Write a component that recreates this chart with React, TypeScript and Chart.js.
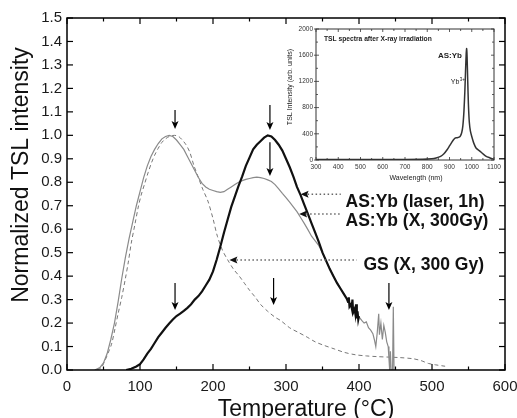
import React, { useEffect, useRef } from "react";
import { Chart, registerables } from "chart.js";
Chart.register(...registerables);

const FONT = '"Liberation Sans", Arial, Helvetica, sans-serif';

// ---------- main data (Temperature °C -> normalized TSL) ----------
// AS:Yb (laser, 1h)
const laserT = [81, 88, 95, 100, 105, 110, 115, 120, 125, 130, 135, 140, 145, 150, 155, 160, 165, 170, 175, 180, 185, 190, 195, 200, 205, 210, 215, 220, 225, 230, 235, 240, 245, 250, 255, 260, 265, 270, 275, 280, 285, 290, 295, 300, 305, 310, 315, 320, 325, 330, 335, 340, 345, 350, 355, 360, 365, 370, 375, 380, 383, 385, 386, 387, 389, 390, 391, 392, 394, 395, 396, 397, 398, 399, 400];
const laserY = [0, 0.005, 0.015, 0.025, 0.045, 0.07, 0.09, 0.115, 0.14, 0.16, 0.18, 0.198, 0.215, 0.23, 0.24, 0.252, 0.265, 0.28, 0.3, 0.315, 0.335, 0.36, 0.385, 0.42, 0.47, 0.525, 0.585, 0.64, 0.695, 0.74, 0.785, 0.825, 0.87, 0.905, 0.94, 0.96, 0.975, 0.99, 1.0, 0.995, 0.98, 0.96, 0.935, 0.9, 0.865, 0.825, 0.78, 0.745, 0.705, 0.665, 0.625, 0.585, 0.545, 0.5, 0.465, 0.43, 0.4, 0.37, 0.345, 0.32, 0.305, 0.29, 0.31, 0.27, 0.28, 0.265, 0.3, 0.245, 0.26, 0.24, 0.28, 0.22, 0.25, 0.215, 0.23];

// AS:Yb (X, 300Gy)
const xrayT = [38, 45, 50, 55, 60, 65, 70, 75, 80, 85, 90, 95, 100, 105, 110, 115, 120, 125, 130, 135, 140, 145, 150, 155, 160, 165, 170, 175, 180, 185, 190, 195, 200, 205, 210, 215, 220, 225, 230, 235, 240, 245, 250, 255, 260, 265, 270, 275, 280, 285, 290, 295, 300, 305, 310, 315, 320, 325, 330, 335, 340, 345, 350, 355, 360, 365, 370, 375, 380, 385, 390, 395, 400, 404, 407, 410, 413, 416, 419, 421, 423, 425, 427, 428, 430, 432, 434, 436, 438, 440, 441, 442, 443, 444, 446, 447, 448];
const xrayY = [0, 0.01, 0.03, 0.07, 0.13, 0.2, 0.29, 0.39, 0.48, 0.56, 0.63, 0.7, 0.76, 0.82, 0.87, 0.91, 0.94, 0.965, 0.985, 0.995, 1.0, 0.995, 0.98, 0.96, 0.94, 0.91, 0.88, 0.85, 0.82, 0.795, 0.78, 0.77, 0.765, 0.76, 0.757, 0.76, 0.77, 0.78, 0.79, 0.8, 0.807, 0.812, 0.816, 0.82, 0.822, 0.82, 0.816, 0.81, 0.803, 0.79, 0.772, 0.753, 0.735, 0.715, 0.695, 0.675, 0.65, 0.625, 0.598, 0.57, 0.55, 0.53, 0.5, 0.465, 0.432, 0.4, 0.372, 0.345, 0.32, 0.296, 0.272, 0.25, 0.226, 0.21, 0.2, 0.205, 0.18, 0.17, 0.155, 0.13, 0.1, 0.16, 0.24, 0.15, 0.2, 0.13, 0.19, 0.16, 0.12, 0.1, 0.05, 0.0, 0.08, 0.0, 0.0, 0.27, 0.0];

// GS (X, 300 Gy)
const gsT = [41, 47, 52, 56, 61, 66, 70, 75, 80, 84, 88, 93, 98, 102, 106, 111, 116, 120, 125, 130, 135, 140, 147, 153, 158, 163, 168, 174, 180, 186, 193, 200, 206, 213, 220, 228, 236, 243, 250, 258, 265, 275, 285, 293, 305, 317, 329, 340, 352, 366, 380, 395, 410, 425, 440, 455, 474, 485, 495, 505, 518];
const gsY = [0, 0.01, 0.04, 0.07, 0.11, 0.18, 0.24, 0.31, 0.39, 0.46, 0.54, 0.62, 0.7, 0.75, 0.79, 0.84, 0.885, 0.915, 0.945, 0.97, 0.985, 0.995, 1.0, 0.995, 0.98, 0.96, 0.93, 0.87, 0.82, 0.77, 0.72, 0.645, 0.57, 0.51, 0.47, 0.43, 0.4, 0.37, 0.34, 0.31, 0.28, 0.25, 0.225, 0.21, 0.18, 0.16, 0.14, 0.12, 0.105, 0.09, 0.075, 0.065, 0.06, 0.057, 0.055, 0.053, 0.048, 0.04, 0.028, 0.022, 0.016];

const xTickValues = [0, 100, 200, 300, 400, 500, 600];
const yTickLabels = ["0.0", "0.1", "0.2", "0.3", "0.4", "0.5", "0.6", "0.7", "0.8", "0.9", "1.0", "1.1", "1.2", "1.3", "1.4", "1.5"];

// peak markers (down arrows) in data coords: temperature, from, to
const arrowT = [148, 278, 278, 148, 283, 441];
const arrowFrom = [1.108, 1.129, 0.971, 0.371, 0.392, 0.371];
const arrowTo = [1.027, 1.023, 0.827, 0.256, 0.277, 0.256];

// labels with dotted pointer arrows
const labelTexts = ["AS:Yb (laser, 1h)", "AS:Yb (X, 300Gy)", "GS (X, 300 Gy)"];
const labelTipT = [320, 318, 222.5];
const labelTailT = [375, 375, 397];
const labelLineY = [0.749, 0.665, 0.469];
const labelTextT = [381.5, 381.5, 406];
const labelTextY = [0.695, 0.614, 0.426];

// ---------- inset data ----------
const insetWl = [300, 400, 500, 600, 700, 780, 820, 840, 860, 875, 890, 900, 910, 918, 925, 932, 940, 948, 955, 960, 965, 969, 972, 975, 977, 979, 982, 985, 989, 994, 1000, 1010, 1020, 1035, 1050, 1065, 1080, 1100];
const insetI = [8, 8, 8, 8, 8, 10, 18, 30, 55, 95, 160, 215, 270, 310, 335, 340, 345, 360, 420, 520, 750, 1050, 1350, 1620, 1700, 1580, 1200, 850, 580, 440, 360, 250, 180, 140, 95, 55, 35, 12];
const insetXTicks = [300, 400, 500, 600, 700, 800, 900, 1000, 1100];
const insetYTicks = [0, 400, 800, 1200, 1600, 2000];

function line(ctx: CanvasRenderingContext2D, x1: number, y1: number, x2: number, y2: number) {
  ctx.beginPath();
  ctx.moveTo(x1, y1);
  ctx.lineTo(x2, y2);
  ctx.stroke();
}

const noPad = (s: any) => {
  s.paddingLeft = 0;
  s.paddingRight = 0;
  s.paddingTop = 0;
  s.paddingBottom = 0;
};

const mainDecor = {
  id: "mainDecor",
  afterDatasetsDraw(chart: any) {
    const { ctx, chartArea: a, scales } = chart;
    const x = scales.x;
    const y = scales.y;
    ctx.save();
    ctx.strokeStyle = "#000";
    ctx.lineWidth = 1.2;
    for (let v = 0; v <= 600; v += 50) {
      const px = x.getPixelForValue(v);
      const len = v % 100 === 0 ? 6 : 3.5;
      line(ctx, px, a.bottom, px, a.bottom - len);
      line(ctx, px, a.top, px, a.top + len);
    }
    for (let i = 0; i <= 15; i++) {
      const py = y.getPixelForValue(i / 10);
      line(ctx, a.left, py, a.left + 6, py);
      line(ctx, a.right, py, a.right - 6, py);
    }
    ctx.lineWidth = 1.5;
    ctx.strokeRect(a.left, a.top, a.right - a.left, a.bottom - a.top);

    ctx.fillStyle = "#000";
    ctx.lineWidth = 1.2;
    for (let i = 0; i < arrowT.length; i++) {
      const px = x.getPixelForValue(arrowT[i]);
      const y1 = y.getPixelForValue(arrowFrom[i]);
      const y2 = y.getPixelForValue(arrowTo[i]);
      line(ctx, px, y1, px, y2 - 5);
      ctx.beginPath();
      ctx.moveTo(px - 3.5, y2 - 8);
      ctx.lineTo(px, y2 - 6);
      ctx.lineTo(px + 3.5, y2 - 8);
      ctx.lineTo(px, y2);
      ctx.closePath();
      ctx.fill();
    }

    for (let i = 0; i < labelTexts.length; i++) {
      const tip = x.getPixelForValue(labelTipT[i]);
      const tail = x.getPixelForValue(labelTailT[i]);
      const py = y.getPixelForValue(labelLineY[i]);
      ctx.strokeStyle = "#666";
      ctx.lineWidth = 1.5;
      ctx.setLineDash([1.5, 2.5]);
      line(ctx, tip + 7, py, tail, py);
      ctx.setLineDash([]);
      ctx.fillStyle = "#111";
      ctx.beginPath();
      ctx.moveTo(tip, py);
      ctx.lineTo(tip + 8, py - 3.5);
      ctx.lineTo(tip + 6.5, py);
      ctx.lineTo(tip + 8, py + 3.5);
      ctx.closePath();
      ctx.fill();
      ctx.font = `bold 17.5px ${FONT}`;
      ctx.textAlign = "left";
      ctx.textBaseline = "alphabetic";
      ctx.fillStyle = "#111";
      ctx.fillText(labelTexts[i], x.getPixelForValue(labelTextT[i]), y.getPixelForValue(labelTextY[i]));
    }

    ctx.fillStyle = "#111";
    ctx.font = `23px ${FONT}`;
    ctx.textAlign = "center";
    ctx.textBaseline = "alphabetic";
    ctx.fillText("Temperature (°C)", 306, 416);
    ctx.save();
    ctx.translate(28, 175);
    ctx.rotate(-Math.PI / 2);
    ctx.fillText("Normalized TSL intensity", 0, 0);
    ctx.restore();
    ctx.restore();
  },
};

const insetDecor = {
  id: "insetDecor",
  afterDatasetsDraw(chart: any) {
    const { ctx, chartArea: a, scales } = chart;
    const x = scales.x;
    const y = scales.y;
    ctx.save();
    ctx.strokeStyle = "#333";
    ctx.lineWidth = 0.8;
    for (let v = 300; v <= 1100; v += 50) {
      const px = x.getPixelForValue(v);
      const len = v % 100 === 0 ? 3 : 2;
      line(ctx, px, a.bottom, px, a.bottom - len);
      line(ctx, px, a.top, px, a.top + len);
    }
    for (let v = 0; v <= 2000; v += 200) {
      const py = y.getPixelForValue(v);
      const len = v % 400 === 0 ? 3 : 2;
      line(ctx, a.left - (v % 400 === 0 ? 2 : 0), py, a.left + len, py);
      line(ctx, a.right, py, a.right - len, py);
    }
    ctx.lineWidth = 1;
    ctx.strokeRect(a.left, a.top, a.right - a.left, a.bottom - a.top);

    ctx.fillStyle = "#222";
    ctx.textBaseline = "alphabetic";
    ctx.textAlign = "left";
    ctx.font = `bold 6.7px ${FONT}`;
    ctx.fillText("TSL spectra after X-ray irradiation", a.left + 8, a.top + 11.5);

    ctx.textAlign = "right";
    ctx.font = `bold 8px ${FONT}`;
    ctx.fillText("AS:Yb", x.getPixelForValue(956), y.getPixelForValue(1550));
    ctx.font = `7px ${FONT}`;
    const ybx = x.getPixelForValue(944);
    const yby = y.getPixelForValue(1160);
    ctx.fillText("Yb", ybx, yby);
    ctx.textAlign = "left";
    ctx.font = `4.5px ${FONT}`;
    ctx.fillText("3+", ybx + 0.5, yby - 3.5);

    ctx.textAlign = "center";
    ctx.font = `7px ${FONT}`;
    ctx.fillText("Wavelength (nm)", a.left + 100, a.bottom + 20);
    ctx.save();
    ctx.translate(a.left - 24, a.top + 58);
    ctx.rotate(-Math.PI / 2);
    ctx.fillText("TSL Intensity (arb. units)", 0, 0);
    ctx.restore();
    ctx.restore();
  },
};

export default function App() {
  const mainRef = useRef<HTMLCanvasElement>(null);
  const insetRef = useRef<HTMLCanvasElement>(null);

  useEffect(() => {
    const pts = (xs: number[], ys: number[]) => xs.map((v, i) => ({ x: v, y: ys[i] }));
    const main = new Chart(mainRef.current!, {
      type: "line",
      data: {
        datasets: [
          {
            label: "AS:Yb (laser, 1h)",
            data: pts(laserT, laserY),
            borderColor: "#111",
            borderWidth: 2.2,
            pointRadius: 0,
            tension: 0,
          },
          {
            label: "AS:Yb (X, 300Gy)",
            data: pts(xrayT, xrayY),
            borderColor: "#8a8a8a",
            borderWidth: 1.2,
            pointRadius: 0,
            tension: 0,
          },
          {
            label: "GS (X, 300 Gy)",
            data: pts(gsT, gsY),
            borderColor: "#777",
            borderWidth: 1,
            borderDash: [4, 3],
            pointRadius: 0,
            tension: 0.3,
          },
        ],
      },
      options: {
        responsive: false,
        animation: false,
        devicePixelRatio: 1,
        layout: { padding: { left: 0, right: 12, top: 18, bottom: 0 } },
        plugins: { legend: { display: false }, tooltip: { enabled: false } },
        scales: {
          x: {
            type: "linear",
            min: 0,
            max: 600,
            afterBuildTicks: (s: any) => {
              s.ticks = xTickValues.map((v) => ({ value: v }));
            },
            ticks: { font: { family: FONT, size: 15 }, color: "#1a1a1a", padding: 8, maxRotation: 0, autoSkip: false },
            grid: { display: false, drawTicks: false },
            border: { display: false },
            afterFit: (s: any) => {
              s.height = 48;
              noPad(s);
            },
          },
          y: {
            type: "linear",
            min: 0,
            max: 1.5,
            afterBuildTicks: (s: any) => {
              s.ticks = yTickLabels.map((t) => ({ value: parseFloat(t) }));
            },
            ticks: {
              font: { family: FONT, size: 15 },
              color: "#1a1a1a",
              padding: 5,
              autoSkip: false,
              callback: (v: any) => Number(v).toFixed(1),
            },
            grid: { display: false, drawTicks: false },
            border: { display: false },
            afterFit: (s: any) => {
              s.width = 67;
              noPad(s);
            },
          },
        },
      },
      plugins: [mainDecor],
    });

    const inset = new Chart(insetRef.current!, {
      type: "line",
      data: {
        datasets: [
          {
            label: "AS:Yb",
            data: pts(insetWl, insetI),
            borderColor: "#333",
            borderWidth: 1.5,
            pointRadius: 0,
            tension: 0.2,
          },
        ],
      },
      options: {
        responsive: false,
        animation: false,
        devicePixelRatio: 1,
        layout: { padding: { left: 0, right: 16, top: 7, bottom: 0 } },
        plugins: { legend: { display: false }, tooltip: { enabled: false } },
        scales: {
          x: {
            type: "linear",
            min: 300,
            max: 1100,
            afterBuildTicks: (s: any) => {
              s.ticks = insetXTicks.map((v) => ({ value: v }));
            },
            ticks: {
              font: { family: FONT, size: 6.5 },
              color: "#333",
              padding: 3,
              maxRotation: 0,
              autoSkip: false,
              callback: (v: any) => String(v),
            },
            grid: { display: false, drawTicks: false },
            border: { display: false },
            afterFit: (s: any) => {
              s.height = 27;
              noPad(s);
            },
          },
          y: {
            type: "linear",
            min: 0,
            max: 2000,
            afterBuildTicks: (s: any) => {
              s.ticks = insetYTicks.map((v) => ({ value: v }));
            },
            ticks: {
              font: { family: FONT, size: 6.5 },
              color: "#333",
              padding: 3,
              autoSkip: false,
              callback: (v: any) => String(v),
            },
            grid: { display: false, drawTicks: false },
            border: { display: false },
            afterFit: (s: any) => {
              s.width = 36;
              noPad(s);
            },
          },
        },
      },
      plugins: [insetDecor],
    });

    return () => {
      main.destroy();
      inset.destroy();
    };
  }, []);

  return (
    <div style={{ position: "fixed", left: 0, top: 0, width: 517, height: 418, background: "#fff" }}>
      <canvas ref={mainRef} width={517} height={418} style={{ position: "absolute", left: 0, top: 0, width: 517, height: 418 }} />
      <canvas ref={insetRef} width={230} height={165} style={{ position: "absolute", left: 280, top: 22, width: 230, height: 165 }} />
    </div>
  );
}
